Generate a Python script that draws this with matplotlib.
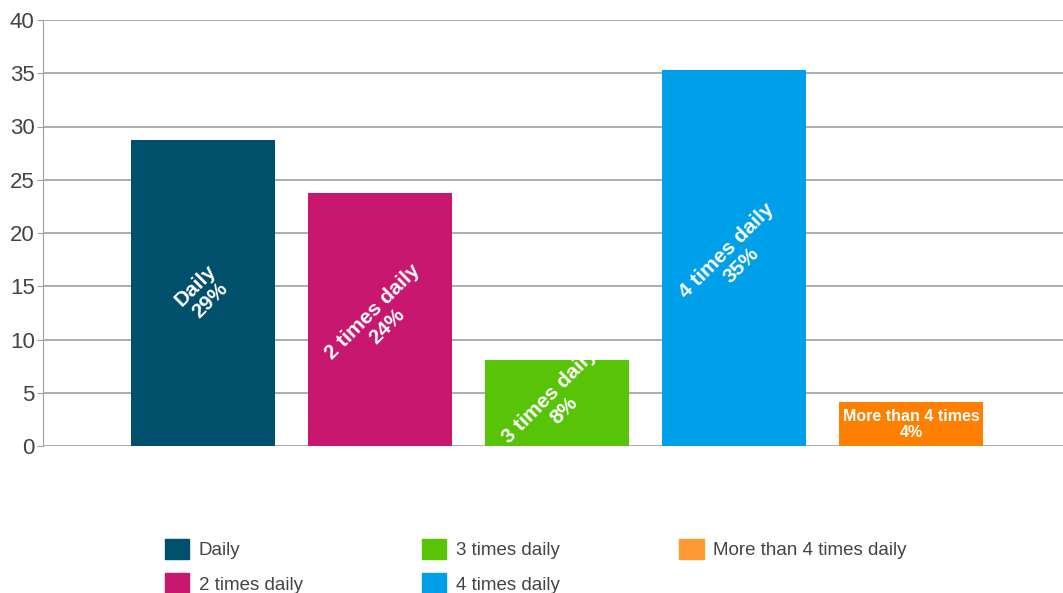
import matplotlib.pyplot as plt
from matplotlib.patches import Patch

plt.rcParams['font.family'] = ['Liberation Sans', 'DejaVu Sans']

categories = ['Daily', '2 times daily', '3 times daily', '4 times daily', 'More than 4 times daily']
values = [28.7, 23.8, 8.1, 35.3, 4.1]
bar_labels = ['Daily\n29%', '2 times daily\n24%', '3 times daily\n8%', '4 times daily\n35%', 'More than 4 times\n4%']
label_rot = [45, 45, 45, 45, 0]
bar_colors = ['#004f6b', '#c8176f', '#57c408', '#009fe9', '#ff8000']
legend_colors = ['#004f6b', '#c8176f', '#57c408', '#009fe9', '#ff9933']

fig = plt.figure(figsize=(10.63, 5.93), dpi=100)
ax = fig.add_axes([43 / 1063, 147 / 593, 1020 / 1063, 426 / 593])

x = list(range(len(categories)))
ax.bar(x, values, width=0.814, color=bar_colors, zorder=2)

for i, v in enumerate(values):
    fs = 15 if label_rot[i] else 11.5
    ax.text(i, v / 2, bar_labels[i], rotation=label_rot[i], ha='center', va='center',
            color='white', fontweight='bold', fontsize=fs, linespacing=1.1,
            rotation_mode='anchor', zorder=3)

ax.set_xlim(-0.904, 4.859)
ax.set_ylim(0, 40)
ax.set_yticks(range(0, 41, 5))
ax.yaxis.grid(True, color='#a0a0a0', linewidth=1.2)
ax.set_axisbelow(True)
ax.set_xticks([])
for s in ['top', 'right', 'bottom']:
    ax.spines[s].set_visible(False)
ax.spines['left'].set_color('#a0a0a0')
ax.tick_params(axis='y', colors='#a0a0a0', labelcolor='#444444', labelsize=16, length=4, pad=2)

handles = [Patch(color=c, label=l) for c, l in zip(legend_colors, categories)]
fig.legend(handles=handles, ncol=3, loc='upper left', bbox_to_anchor=(148 / 1063, 1 - 522 / 593),
           frameon=False, fontsize=13.5, labelcolor='#444444', handlelength=1.3, handleheight=1.3,
           columnspacing=6.37, handletextpad=0.5, labelspacing=0.75)

plt.savefig('out.png')
